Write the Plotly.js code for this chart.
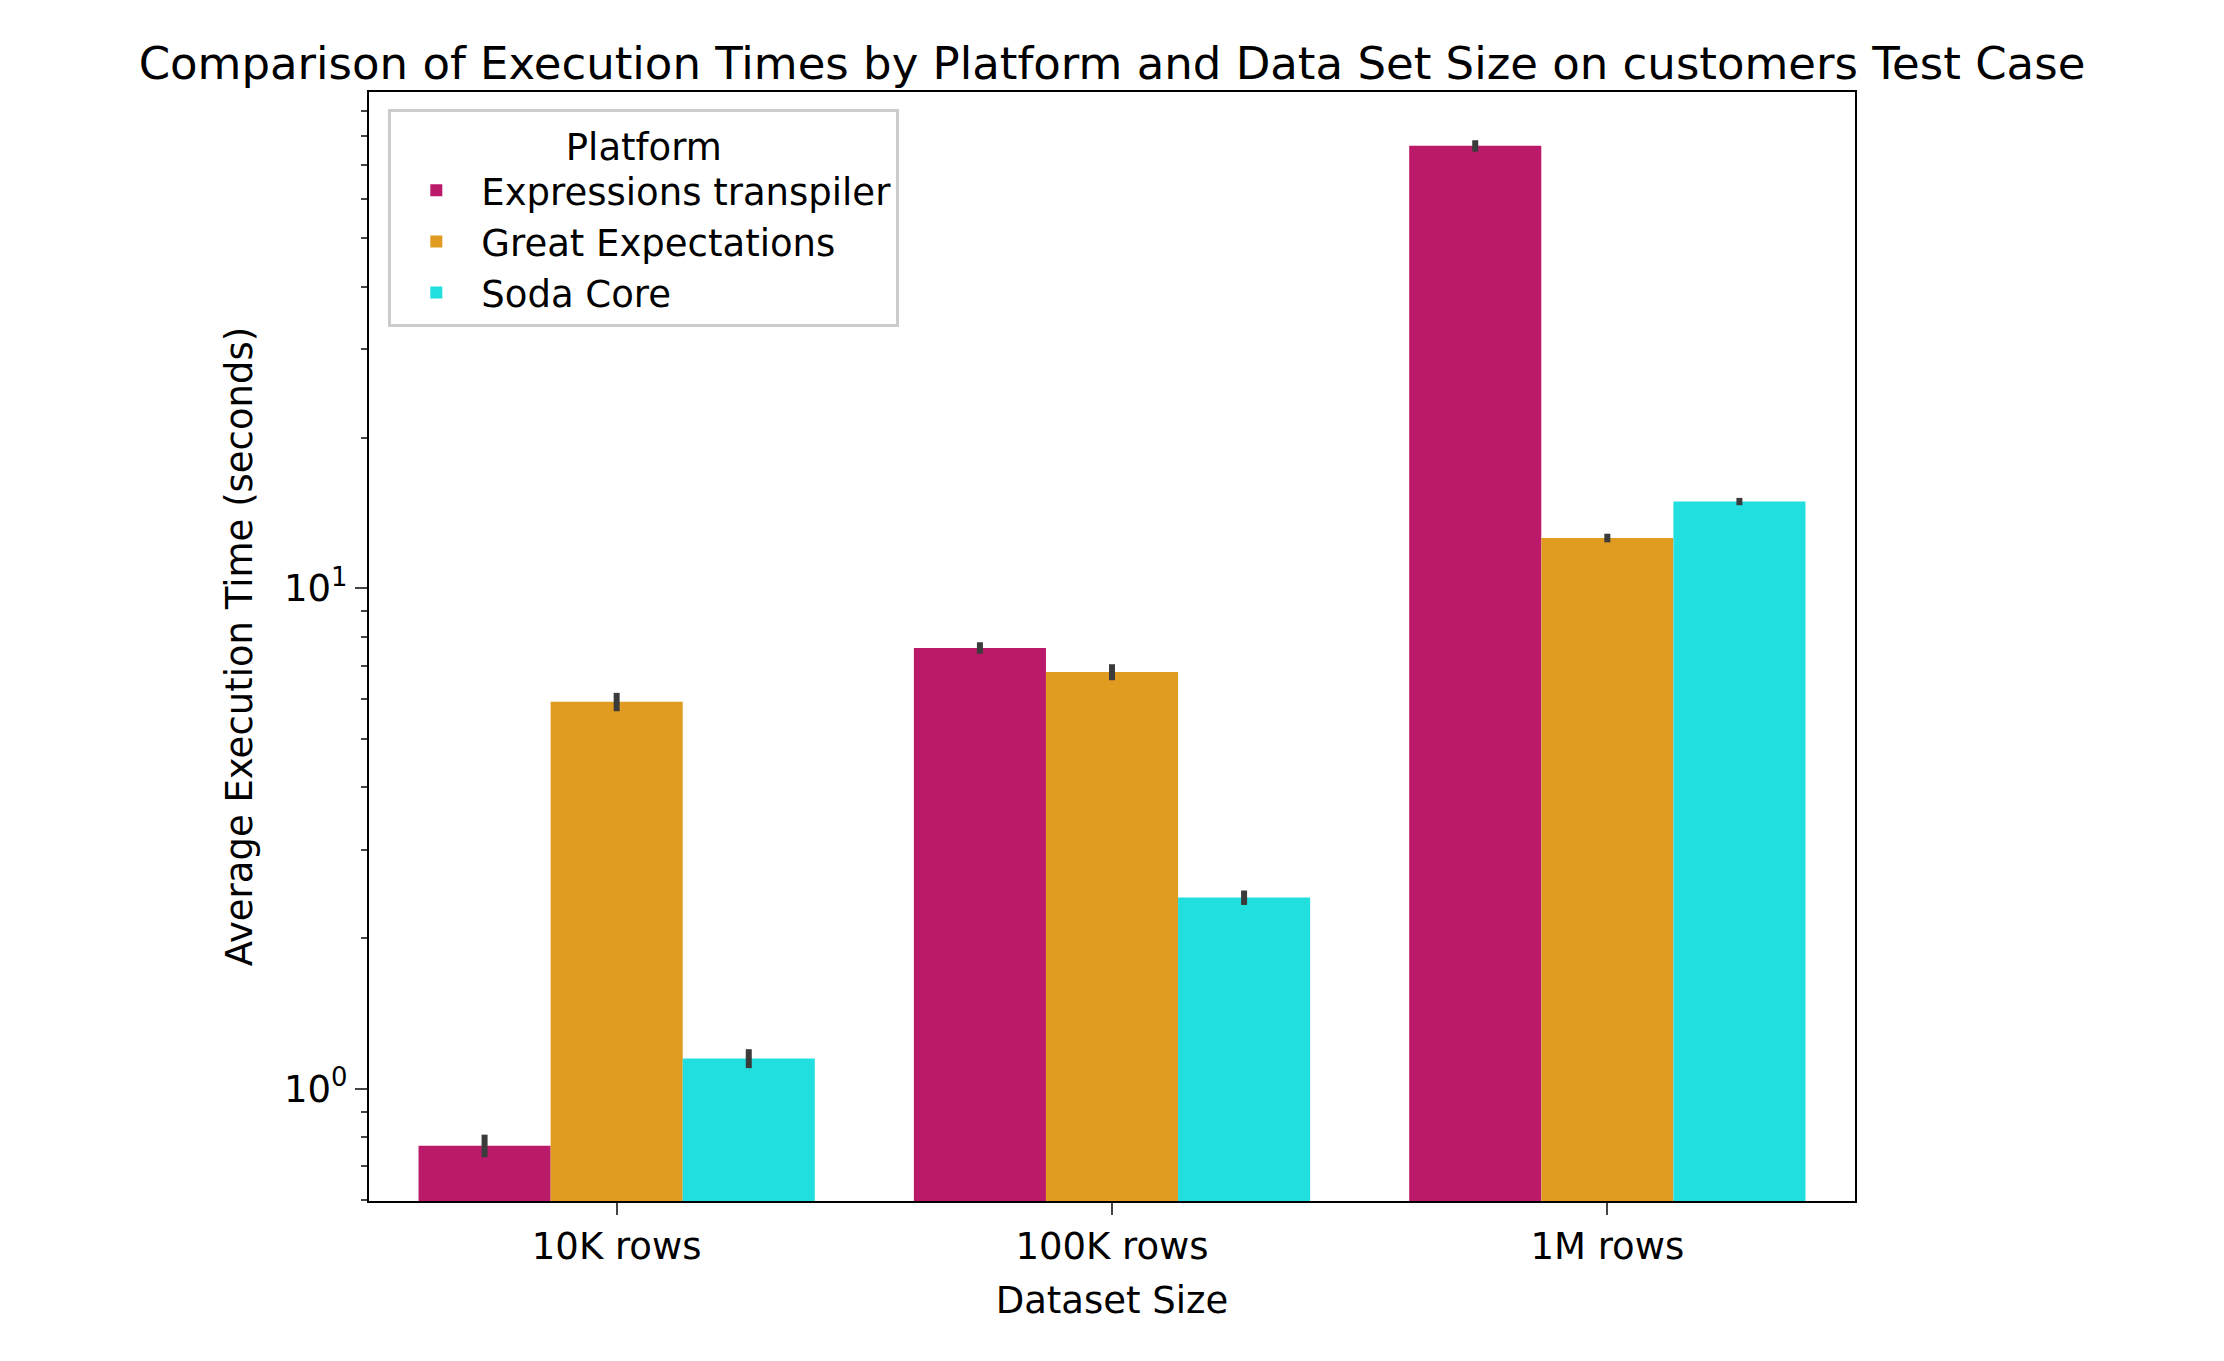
<!DOCTYPE html>
<html><head><meta charset="utf-8">
<script src="https://cdn.plot.ly/plotly-3.0.1.min.js"></script>
<style>body{margin:0;background:#fff}</style></head>
<body><div id="plot" style="width:2224px;height:1361px"></div>
<script>
var sizes = ['10K rows', '100K rows', '1M rows'];
var platforms = ['Expressions transpiler', 'Great Expectations', 'Soda Core'];
var colors = ['#BB1A6B', '#E09B21', '#22DFDF'];
var expr = [0.77, 7.6, 76.5];
var gx = [5.93, 6.8, 12.6];
var soda = [1.15, 2.41, 14.9];
var exprErr = [0.04, 0.2, 2.0];
var gxErr = [0.25, 0.25, 0.25];
var sodaErr = [0.05, 0.08, 0.25];

var series = [expr, gx, soda];
var errs = [exprErr, gxErr, sodaErr];
var dataPlot = series.map(function(vals, i) {
  return {
    type: 'bar', name: platforms[i], x: sizes, y: vals,
    marker: {color: colors[i]},
    error_y: {type: 'data', array: errs[i], visible: true, color: '#3b3b3b', thickness: 6, width: 0}
  };
});

var minorVals = [];
[0.1, 1, 10].forEach(function(d) { for (var k = 2; k <= 9; k++) minorVals.push(d * k); });

var layout = {
  font: {family: 'DejaVu Sans', size: 37, color: '#000'},
  title: {text: 'Comparison of Execution Times by Platform and Data Set Size on customers Test Case',
          font: {size: 45}, x: 0.5, xanchor: 'center', y: 0.965},
  margin: {l: 369, r: 369, t: 92, b: 160},
  barmode: 'group', bargap: 0.2, bargroupgap: 0,
  showlegend: true,
  legend: {title: {text: 'Platform', side: 'top center', font: {size: 37}}, x: 0.013, y: 0.985, xanchor: 'left', yanchor: 'top',
           bordercolor: '#ccc', borderwidth: 3, bgcolor: 'rgba(255,255,255,0.8)', font: {size: 37},
           itemwidth: 80, itemsizing: 'constant'},
  xaxis: {title: {text: 'Dataset Size', font: {size: 37}, standoff: 20}, showline: true, mirror: true, linecolor: '#000', linewidth: 2,
          ticks: 'outside', ticklen: 12, tickwidth: 2, showgrid: false},
  yaxis: {type: 'log', range: [Math.log10(0.597), Math.log10(98)],
          title: {text: 'Average Execution Time (seconds)', font: {size: 37}, standoff: 20},
          showline: true, mirror: true, linecolor: '#000', linewidth: 2, showgrid: false, zeroline: false,
          tickmode: 'array', tickvals: [1, 10], ticktext: ['10<sup>0</sup>', '10<sup>1</sup>'],
          ticks: 'outside', ticklen: 12, tickwidth: 2,
          minor: {tickmode: 'array', tickvals: minorVals, ticks: 'outside', ticklen: 6, tickwidth: 1.5, showgrid: false}},
  plot_bgcolor: '#fff', paper_bgcolor: '#fff'
};
Plotly.newPlot('plot', dataPlot, layout, {displayModeBar: false});
</script></body></html>
